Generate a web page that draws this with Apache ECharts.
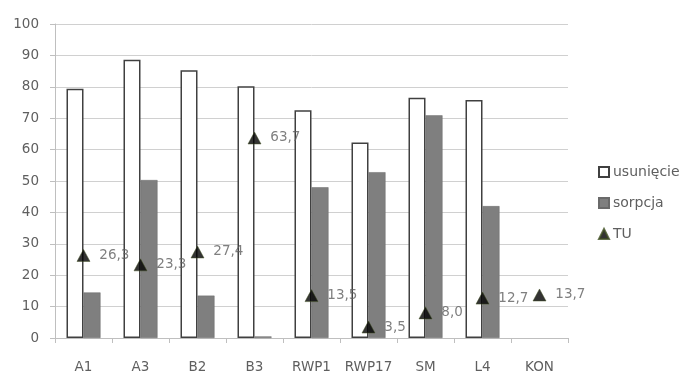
<!DOCTYPE html>
<html>
<head>
<meta charset="utf-8">
<script src="https://cdn.jsdelivr.net/npm/echarts@6/dist/echarts.min.js"></script>
<style>
  html, body { margin: 0; padding: 0; background: #fff; }
  #chart { width: 681px; height: 374px; }
</style>
</head>
<body>
<div id="chart"></div>
<script>
// Sample categories
const categories = ['A1', 'A3', 'B2', 'B3', 'RWP1', 'RWP17', 'SM', 'L4', 'KON'];
// Removal (%) – no bar for the control sample
const usuniecie = [79.4, 88.6, 85.3, 80.2, 72.5, 62.3, 76.5, 75.8, null];
// Sorption (%) – no bar for the control sample
const sorpcja = [14.5, 50.3, 13.5, 0.5, 48.0, 52.8, 70.9, 42.0, null];
// TU values
const tu = [26.3, 23.3, 27.4, 63.7, 13.5, 3.5, 8.0, 12.7, 13.7];
// Y axis ticks
const yMin = 0, yMax = 100, yStep = 10;

const textColor = '#5f5f5f';
const fontFamily = 'DejaVu Sans, sans-serif';
const fontSize = 13.5;

const chart = echarts.init(document.getElementById('chart'), null, { renderer: 'canvas' });
chart.setOption({
  animation: false,
  textStyle: { fontFamily: fontFamily },
  grid: { left: 55, right: 113, top: 24, bottom: 34, containLabel: false },
  legend: {
    orient: 'vertical',
    left: 593,
    top: 160,
    itemGap: 17,
    itemWidth: 10,
    itemHeight: 10,
    textStyle: { color: textColor, fontSize: 14, fontFamily: fontFamily, padding: [0, 0, 0, -1] },
    data: [
      { name: 'usunięcie', icon: 'rect' },
      { name: 'sorpcja', icon: 'rect' },
      { name: 'TU', icon: 'triangle' }
    ]
  },
  xAxis: {
    type: 'category',
    data: categories,
    axisLine: { lineStyle: { color: '#bfbfbf', width: 1 } },
    axisTick: { show: true, alignWithLabel: false, length: 5, lineStyle: { color: '#bfbfbf' } },
    axisLabel: { color: textColor, fontSize: fontSize, margin: 22, interval: 0, hideOverlap: false },
    splitLine: { show: false }
  },
  yAxis: {
    type: 'value',
    min: yMin,
    max: yMax,
    interval: yStep,
    axisLine: { show: true, lineStyle: { color: '#bfbfbf', width: 1 } },
    axisTick: { show: true, length: 5, lineStyle: { color: '#bfbfbf' } },
    axisLabel: { color: textColor, fontSize: fontSize, margin: 16 },
    splitLine: { lineStyle: { color: '#d0d0d0', width: 1 } }
  },
  series: [
    {
      name: 'usunięcie',
      type: 'bar',
      data: usuniecie,
      barWidth: 17,
      barGap: '0%',
      itemStyle: { color: '#ffffff', borderColor: '#404040', borderWidth: 1.5 }
    },
    {
      name: 'sorpcja',
      type: 'bar',
      data: sorpcja,
      barWidth: 17,
      barGap: '0%',
      itemStyle: { color: '#7f7f7f', borderColor: '#6a6a6a', borderWidth: 0.5 }
    },
    {
      name: 'TU',
      type: 'scatter',
      data: tu,
      symbol: 'triangle',
      symbolSize: [13, 12],
      itemStyle: { color: '#000000', borderColor: '#3f4f20', borderWidth: 0.6 },
      label: {
        show: true,
        position: 'right',
        distance: 9,
        color: textColor,
        fontSize: fontSize,
        formatter: p => p.value.toFixed(1).replace('.', ',')
      },
      z: 5
    }
  ]
});
</script>
</body>
</html>
